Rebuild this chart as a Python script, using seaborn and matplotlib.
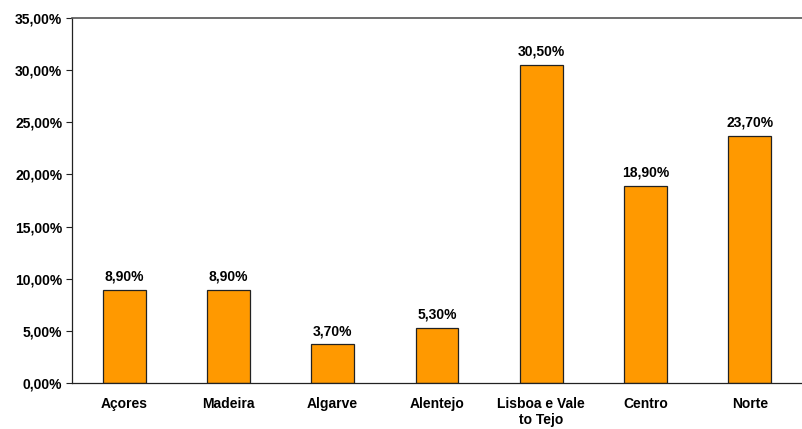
import pandas as pd
import matplotlib.pyplot as plt
import seaborn as sns
from matplotlib.ticker import FuncFormatter, MultipleLocator

# data
regions = ["Açores", "Madeira", "Algarve", "Alentejo",
           "Lisboa e Vale\nto Tejo", "Centro", "Norte"]
shares = [8.90, 8.90, 3.70, 5.30, 30.50, 18.90, 23.70]

df = pd.DataFrame({"Region": regions, "Share": shares})

sns.set_style("white")
plt.rcParams['font.family'] = ['Liberation Sans', 'DejaVu Sans']
plt.rcParams['text.color'] = 'black'
plt.rcParams['xtick.color'] = 'black'
plt.rcParams['ytick.color'] = 'black'

fig = plt.figure(figsize=(8.02, 4.29), dpi=100)
ax = fig.add_axes([72 / 802, 46 / 429, 730 / 802, 365 / 429])

sns.barplot(data=df, x="Region", y="Share", color="#FF9900",
            edgecolor="#222222", linewidth=0.9, width=0.41,
            saturation=1, ax=ax)

ax.set_xlim(-0.5, len(regions) - 0.5)
ax.set_ylim(0, 35)
ax.yaxis.set_major_locator(MultipleLocator(5))
ax.yaxis.set_major_formatter(FuncFormatter(
    lambda v, p: f"{v:.2f}%".replace(".", ",")))

# value labels
for i, v in enumerate(shares):
    ax.text(i, v + 0.6, f"{v:.2f}%".replace(".", ","), ha="center",
            va="bottom", fontsize=10, fontweight="bold", color="black")

# ticks between categories
ax.set_xticks(range(len(regions)))
ax.set_xticklabels(regions, fontsize=10, fontweight="bold", linespacing=1.15)
ax.tick_params(axis="x", length=0, pad=10)
ax.set_xticks([i + 0.5 for i in range(len(regions) - 1)], minor=True)
ax.tick_params(axis="x", which="minor", length=4, width=0.8, direction="out",
               color="#222222")
for lab in ax.get_yticklabels():
    lab.set_fontweight("bold")
ax.tick_params(axis="y", labelsize=10, length=4, width=0.8, direction="out",
               left=True, color="#222222", pad=3)

ax.set_xlabel("")
ax.set_ylabel("")
sns.despine(ax=ax, right=True, top=False)
ax.spines["top"].set_color("#555555")
ax.spines["top"].set_linewidth(1.2)
ax.spines["left"].set_color("#222222")
ax.spines["bottom"].set_color("#222222")
ax.spines["left"].set_linewidth(0.9)
ax.spines["bottom"].set_linewidth(0.9)

fig.savefig("out.png", dpi=100)
